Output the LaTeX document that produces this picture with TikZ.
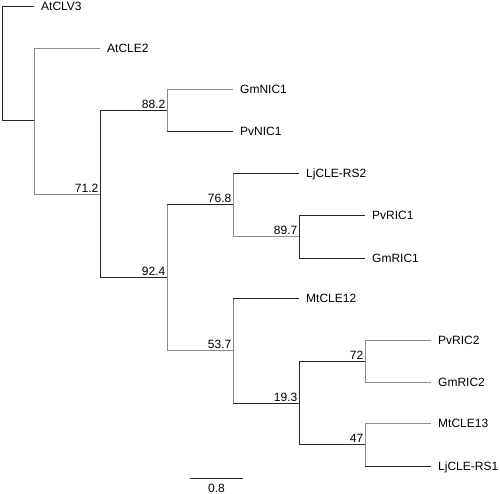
\documentclass[tikz,border=0pt]{standalone}
\usepackage{fontspec}
\setmainfont{Liberation Sans}
\usetikzlibrary{positioning}

\begin{document}
\begin{tikzpicture}[
    x=1pt, y=-1pt,
    every node/.style={font=\fontsize{12}{14}\selectfont},
    taxon/.style={anchor=west, inner xsep=7pt, inner ysep=0pt, text height=8.6pt, text depth=0pt},
    boot/.style={anchor=south east, inner sep=1.5pt, text depth=0pt},
    dark/.style={draw=black!85, line width=0.6pt},
    pale/.style={draw=black!45, line width=0.6pt}
]
\useasboundingbox (0,0) rectangle (500,494);

% internal nodes
\coordinate (r) at (2,63);
\coordinate (a) at (34,120);
\coordinate (b) at (100,194);
\coordinate (c) at (167,110);
\coordinate (d) at (167,277);
\coordinate (e) at (233,204);
\coordinate (f) at (299,236);
\coordinate (g) at (233,350);
\coordinate (h) at (299,403);
\coordinate (i) at (365,361);
\coordinate (j) at (365,444);

% leaves
\node[taxon] (AtCLV3) at (34,6) {AtCLV3};
\node[taxon] (AtCLE2) at (100,48) {AtCLE2};
\node[taxon] (GmNIC1) at (233,89) {GmNIC1};
\node[taxon] (PvNIC1) at (233,131) {PvNIC1};
\node[taxon] (LjCLERS2) at (299,173) {LjCLE-RS2};
\node[taxon] (PvRIC1) at (365,215) {PvRIC1};
\node[taxon] (GmRIC1) at (365,258) {GmRIC1};
\node[taxon] (MtCLE12) at (299,298) {MtCLE12};
\node[taxon] (PvRIC2) at (431,340) {PvRIC2};
\node[taxon] (GmRIC2) at (431,382) {GmRIC2};
\node[taxon] (MtCLE13) at (431,423) {MtCLE13};
\node[taxon] (LjCLERS1) at (431,466) {LjCLE-RS1};

% bootstrap values
\node[boot] (bs71) at (b) {71.2};
\node[boot] (bs88) at (c) {88.2};
\node[boot] (bs92) at (d) {92.4};
\node[boot] (bs76) at (e) {76.8};
\node[boot] (bs89) at (f) {89.7};
\node[boot] (bs53) at (g) {53.7};
\node[boot] (bs19) at (h) {19.3};
\node[boot] (bs72) at (i) {72};
\node[boot] (bs47) at (j) {47};

% root
\draw[dark] (r |- AtCLV3) -- (r |- a);
\draw[dark] (r |- AtCLV3) -- (AtCLV3);
\draw[dark] (r |- a) -- (a);
% a
\draw[pale] (a |- AtCLE2) -- (a |- b);
\draw[pale] (a |- AtCLE2) -- (AtCLE2);
\draw[pale] (a |- b) -- (b);
% b
\draw[dark] (b |- c) -- (b |- d);
\draw[dark] (b |- c) -- (c);
\draw[dark] (b |- d) -- (d);
% c
\draw[pale] (c |- GmNIC1) -- (c |- PvNIC1);
\draw[pale] (c |- GmNIC1) -- (GmNIC1);
\draw[dark] (c |- PvNIC1) -- (PvNIC1);
% d
\draw[pale] (d |- e) -- (d |- g);
\draw[dark] (d |- e) -- (e);
\draw[pale] (d |- g) -- (g);
% e
\draw[pale] (e |- LjCLERS2) -- (e |- f);
\draw[dark] (e |- LjCLERS2) -- (LjCLERS2);
\draw[pale] (e |- f) -- (f);
% f
\draw[dark] (f |- PvRIC1) -- (f |- GmRIC1);
\draw[dark] (f |- PvRIC1) -- (PvRIC1);
\draw[dark] (f |- GmRIC1) -- (GmRIC1);
% g
\draw[pale] (g |- MtCLE12) -- (g |- h);
\draw[dark] (g |- MtCLE12) -- (MtCLE12);
\draw[dark] (g |- h) -- (h);
% h
\draw[dark] (h |- i) -- (h |- j);
\draw[dark] (h |- i) -- (i);
\draw[dark] (h |- j) -- (j);
% i
\draw[pale] (i |- PvRIC2) -- (i |- GmRIC2);
\draw[pale] (i |- PvRIC2) -- (PvRIC2);
\draw[pale] (i |- GmRIC2) -- (GmRIC2);
% j
\draw[pale] (j |- MtCLE13) -- (j |- LjCLERS1);
\draw[pale] (j |- MtCLE13) -- (MtCLE13);
\draw[dark] (j |- LjCLERS1) -- (LjCLERS1);

% scale bar
\coordinate (bar0) at (190,478);
\coordinate (bar1) at (243,478);
\draw[dark] (bar0) -- (bar1);
\node[anchor=north, inner sep=0pt, text depth=0pt] (barlab) at (216.5,483.5) {0.8};
\end{tikzpicture}
\end{document}
